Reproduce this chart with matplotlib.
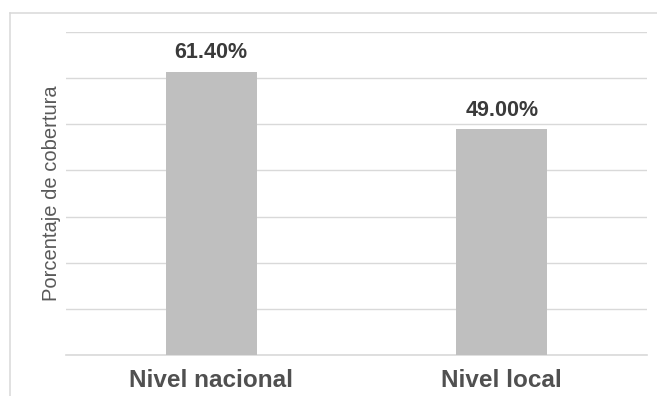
import matplotlib

matplotlib.use("Agg")
import matplotlib.pyplot as plt
from matplotlib.lines import Line2D

categories = ["Nivel nacional", "Nivel local"]
coverage = [61.40, 49.00]
y_ticks = [0, 10, 20, 30, 40, 50, 60, 70]

plt.rcParams["font.family"] = ["Liberation Sans", "DejaVu Sans"]

fig = plt.figure(figsize=(6.57, 3.96), dpi=100)
ax = fig.add_axes([66 / 657, 1 - 355 / 396, 581 / 657, 323 / 396])

x = range(len(categories))
bars = ax.bar(x, coverage, width=0.313, color="#bfbfbf", zorder=3)

for b, v in zip(bars, coverage):
    ax.annotate(f"{v:.2f}%", (b.get_x() + b.get_width() / 2, v),
                xytext=(0, 6), textcoords="offset points",
                ha="center", va="bottom", fontsize=15.5, fontweight="bold",
                color="#3a3a3a")

ax.set_xlim(-0.5, 1.5)
ax.set_ylim(0, 70)
ax.set_yticks(y_ticks)
ax.set_yticklabels([])
ax.set_xticks(list(x))
ax.set_xticklabels(categories, fontsize=17.5, fontweight="bold", color="#505050")
ax.tick_params(axis="both", length=0)
ax.tick_params(axis="x", pad=10)
ax.grid(axis="y", color="#d9d9d9", linewidth=1.0, zorder=0)
ax.axhline(0, color="#d9d9d9", linewidth=1.2, clip_on=False, zorder=2)
for s in ax.spines.values():
    s.set_visible(False)

fig.text(51.5 / 657, 0.5126, "Porcentaje de cobertura", rotation=90,
         ha="center", va="center", fontsize=14.5, color="#595959")

# light outer frame of the chart area
top = 1 - 12.7 / 396
left = 9.5 / 657
fig.add_artist(Line2D([left, left], [0, top], color="#d9d9d9", linewidth=1.1))
fig.add_artist(Line2D([left, 1], [top, top], color="#d9d9d9", linewidth=1.1))

fig.savefig("out.png", dpi=100)
